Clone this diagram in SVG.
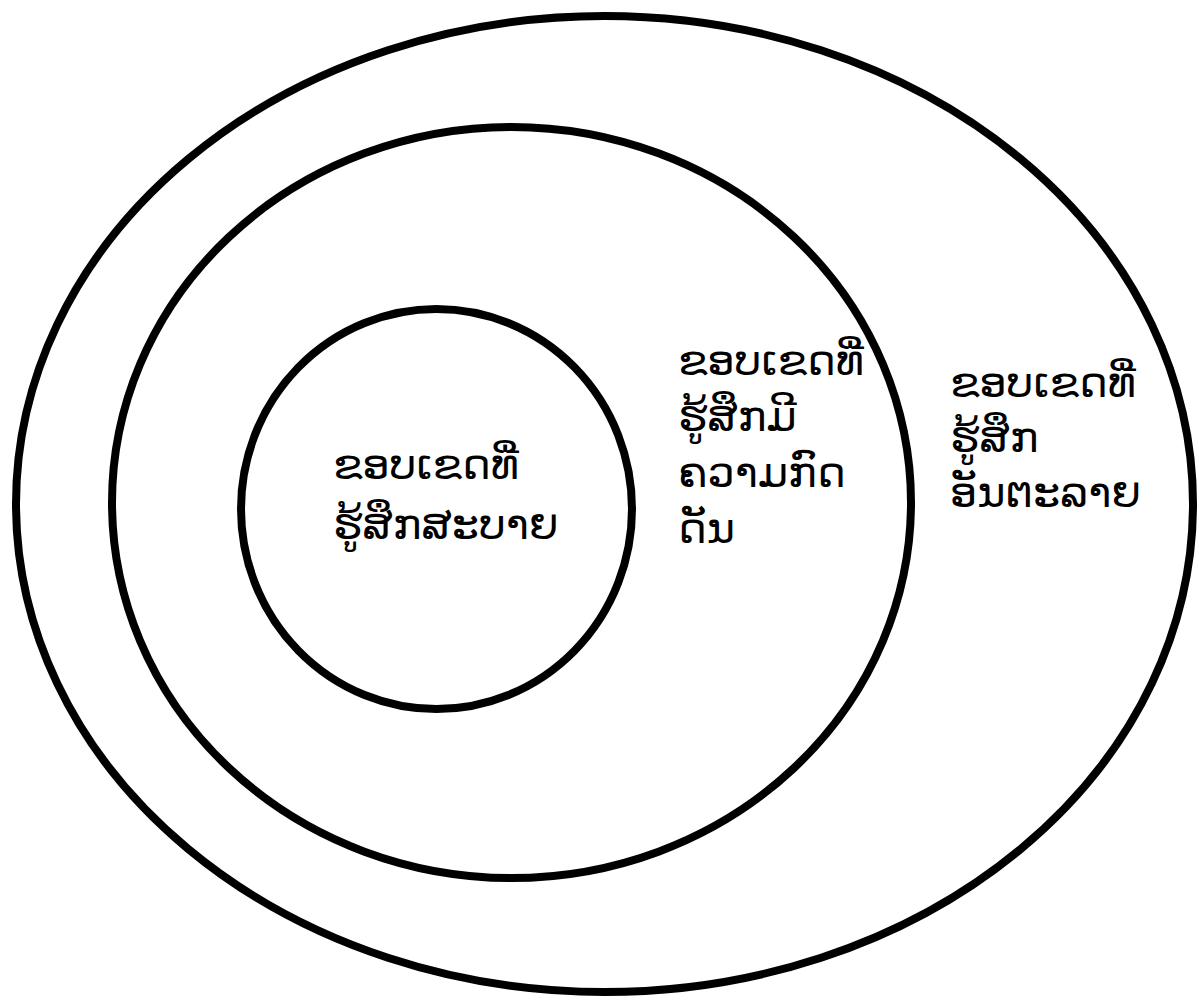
<svg xmlns="http://www.w3.org/2000/svg" width="1199" height="1000" viewBox="0 0 1199 1000">
<style>
.ring{fill:none;stroke:#000;stroke-width:8}
.lbl{font-family:"DejaVu Sans","Noto Sans",sans-serif;font-size:43px;fill:#000}
</style>
<rect width="1199" height="1000" fill="#fff"/>
<g id="outer-zone">
<ellipse class="ring" cx="604.5" cy="504" rx="588.5" ry="488"/>
<text class="lbl" x="950"><tspan x="950" y="397">ຂອບເຂດທີ່</tspan><tspan x="950" y="452">ຮູ້ສຶກ</tspan><tspan x="950" y="507">ອັນຕະລາຍ</tspan></text>
</g>
<g id="middle-zone">
<ellipse class="ring" cx="511.5" cy="502.5" rx="399.5" ry="375.5"/>
<text class="lbl" x="678"><tspan x="678" y="375">ຂອບເຂດທີ່</tspan><tspan x="678" y="431">ຮູ້ສຶກມີ</tspan><tspan x="678" y="487">ຄວາມກົດ</tspan><tspan x="678" y="543">ດັນ</tspan></text>
</g>
<g id="inner-zone">
<ellipse class="ring" cx="436.5" cy="509" rx="195.5" ry="200"/>
<text class="lbl" x="333"><tspan x="333" y="479">ຂອບເຂດທີ່</tspan><tspan x="333" y="539">ຮູ້ສຶກສະບາຍ</tspan></text>
</g>
<g id="connectors"/>
</svg>
